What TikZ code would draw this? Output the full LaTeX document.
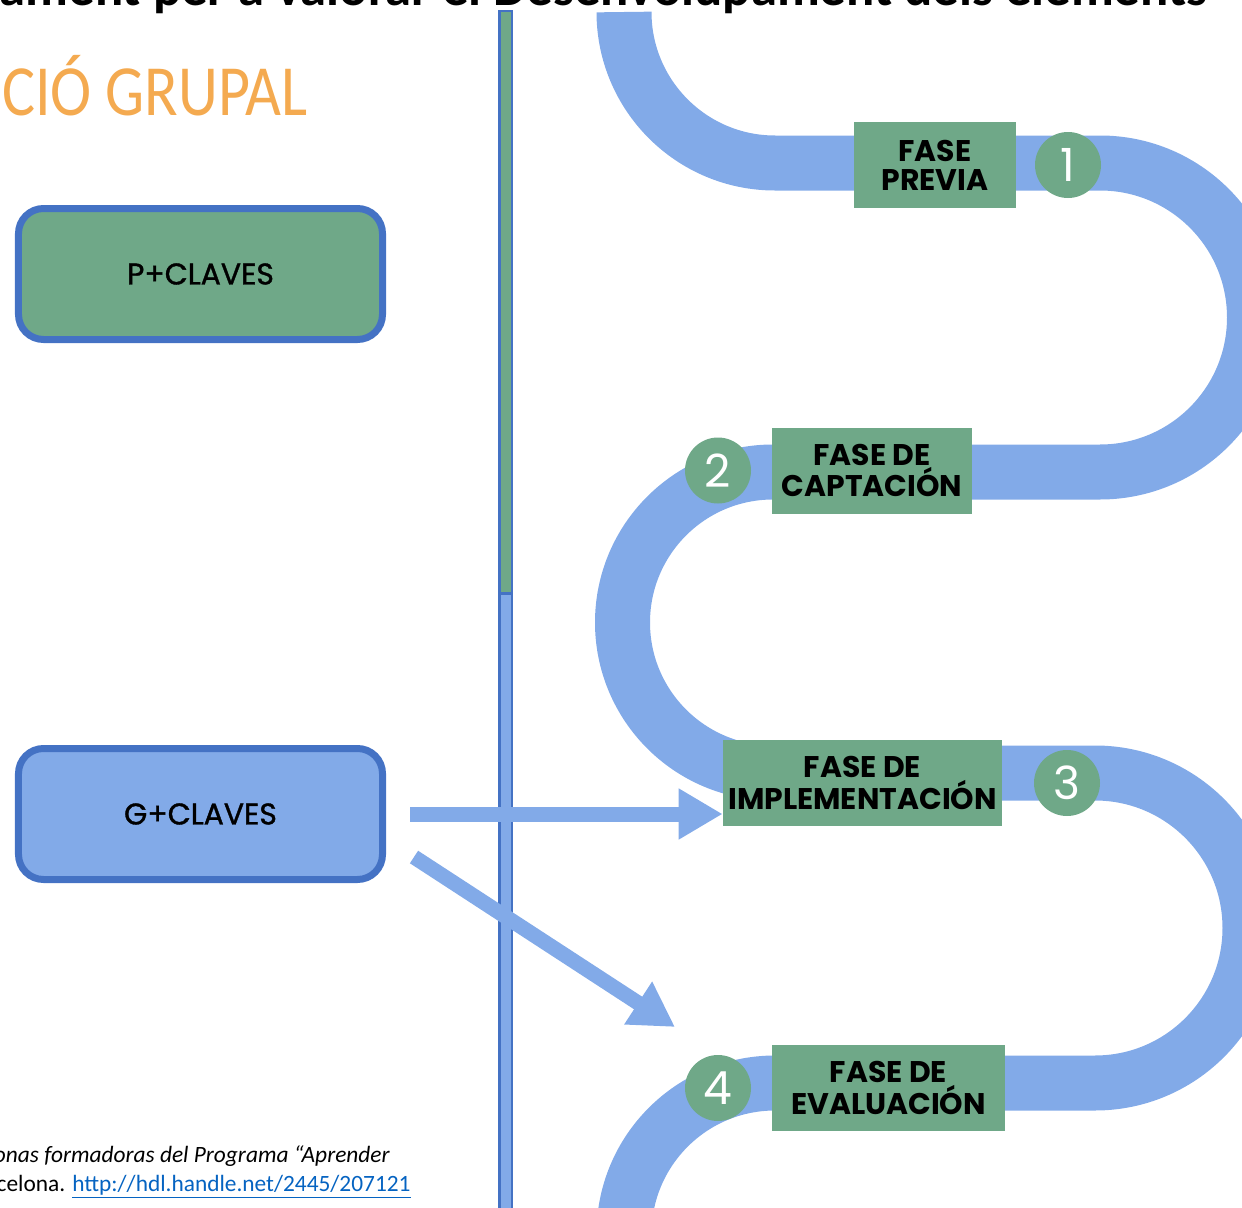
\documentclass[tikz,border=0pt]{standalone}
\usepackage{fontspec}
\usepackage[dvipsnames]{xcolor}
\usepackage{tikz}
\usetikzlibrary{arrows.meta}
\setmainfont{Carlito}
\newfontfamily\handfont{Poppins}
\newfontfamily\markfont[FakeBold=1.2]{Poppins}
\newfontfamily\slimfont[FakeStretch=0.86]{Carlito}
\definecolor{roadblue}{RGB}{130,170,232}
\definecolor{phasegreen}{RGB}{111,168,136}
\definecolor{edgeblue}{RGB}{68,114,196}
\definecolor{titleorange}{RGB}{244,170,80}
\definecolor{linkblue}{RGB}{5,99,193}

\begin{document}
\begin{tikzpicture}[node distance=1.2cm,
  keybox/.style={draw=edgeblue, line width=0.14cm, rounded corners=0.5cm, minimum width=7.28cm, minimum height=2.62cm, font=\markfont\fontsize{17}{18}\selectfont},
  phase/.style={fill=phasegreen, inner sep=0pt, minimum height=1.72cm, align=center, font=\handfont\bfseries\fontsize{17}{16.5}\selectfont},
  numdot/.style={circle, fill=phasegreen, text=white, minimum size=1.32cm, inner sep=0pt, font=\handfont\fontsize{26}{26}\selectfont},
  bigarrow/.style={draw=roadblue, line width=0.3cm, -{Triangle[length=0.88cm, width=0.96cm]}}]
\useasboundingbox (0,0) rectangle (24.84,-24.16);
\clip (0,0) rectangle (24.84,-24.16);
\node[anchor=base east, inner sep=0pt, font=\bfseries\fontsize{30}{30}\selectfont] (heading) at (24.16,-0.1) {ament per a valorar el Desenvolupament dels elements};
\node[anchor=base east, inner sep=0pt, text=titleorange, font=\slimfont\fontsize{41}{41}\selectfont] (section) at (6.16,-2.3) {CIÓ GRUPAL};
\draw[roadblue, line width=1.1cm] (12.48,-0.24) arc[start angle=180, end angle=270, radius=3.02]
  -- (22,-3.26) arc[start angle=90, end angle=-90, radius=3.09]
  -- (15.46,-9.44) arc[start angle=90, end angle=270, radius=3.01]
  -- (21.9,-15.46) arc[start angle=90, end angle=-90, radius=3.1]
  -- (15.5,-21.66) arc[start angle=90, end angle=180, radius=3.02] -- (12.48,-25);
\filldraw[fill=phasegreen, draw=edgeblue, line width=0.05cm] (9.99,-0.22) rectangle (10.24,-11.87);
\filldraw[fill=roadblue, draw=edgeblue, line width=0.05cm] (9.99,-11.87) rectangle (10.24,-24.5);
\node[keybox, fill=phasegreen] (pclaves) at (4.01,-5.48) {P+CLAVES};
\node[keybox, fill=roadblue] (gclaves) at (4.01,-16.28) {G+CLAVES};
\node[phase, minimum width=3.24cm] (previa) at (18.7,-3.3) {FASE\\PREVIA};
\node[phase, minimum width=4cm] (captacion) at (17.44,-9.41) {FASE DE\\CAPTACIÓN};
\node[phase, minimum width=5.58cm] (implementacion) at (17.25,-15.66) {FASE DE\\IMPLEMENTACIÓN};
\node[phase, minimum width=4.66cm] (evaluacion) at (17.77,-21.76) {FASE DE\\EVALUACIÓN};
\node[numdot, right of=previa, node distance=2.66cm] (uno) {1};
\node[numdot, left of=captacion, node distance=3.08cm] (dos) {2};
\node[numdot, right of=implementacion, node distance=4.09cm] (tres) {3};
\node[numdot, left of=evaluacion, node distance=3.41cm] (cuatro) {4};
\coordinate (aim) at (13.5,-20.54);
\draw[bigarrow] ([xshift=0.48cm]gclaves.east) -- (gclaves.east -| implementacion.west);
\draw[bigarrow] ([xshift=0.56cm, yshift=-0.86cm]gclaves.east) -- (aim);
\node[anchor=base east, inner sep=0pt, font=\itshape\fontsize{13.3}{16}\selectfont] (cite) at (7.8,-23.24) {onas formadoras del Programa “Aprender};
\node[anchor=base east, inner sep=0pt, font=\fontsize{13.3}{16}\selectfont] (link) at (8.22,-23.82) {celona. \textcolor{linkblue}{\underline{http://hdl.handle.net/2445/207121}}};
\end{tikzpicture}
\end{document}
